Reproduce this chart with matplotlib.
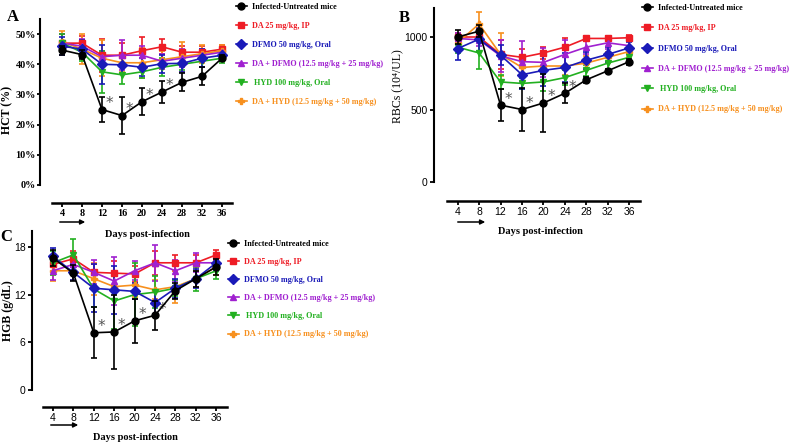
import matplotlib
matplotlib.use("agg")
import matplotlib.pyplot as plt
from matplotlib.lines import Line2D
import numpy as np

days = [4, 8, 12, 16, 20, 24, 28, 32, 36]
groups = ["Infected-Untreated mice", "DA 25 mg/kg, IP", "DFMO 50 mg/kg, Oral",
          "DA + DFMO (12.5 mg/kg + 25 mg/kg)", " HYD 100 mg/kg, Oral",
          "DA + HYD (12.5 mg/kg + 50 mg/kg)"]
colors = ["#000000", "#ee1c25", "#1a1ab8", "#a020d0", "#22b020", "#f7901e"]
markers = ["o", "s", "D", "^", "v", "P"]

# HCT (%)
hct = [[44.7, 43.2, 25.0, 23.0, 27.6, 30.8, 34.0, 36.0, 42.0],
       [47.0, 47.0, 43.0, 43.0, 44.5, 45.8, 44.0, 44.0, 45.0],
       [46.0, 45.0, 40.0, 39.8, 39.0, 40.2, 40.3, 42.0, 43.0],
       [47.0, 46.0, 42.5, 43.0, 43.0, 41.0, 42.0, 43.0, 44.0],
       [47.0, 44.0, 37.5, 36.5, 37.5, 39.0, 40.0, 41.0, 42.0],
       [47.5, 45.0, 42.0, 40.5, 40.5, 41.5, 42.5, 43.5, 44.5]]
hct_err = [[1.5, 1.5, 4.0, 6.0, 4.5, 3.7, 3.0, 3.0, 1.0],
           [3.0, 2.5, 5.5, 4.0, 4.5, 2.5, 2.0, 2.0, 1.5],
           [3.0, 3.0, 6.5, 3.0, 3.0, 3.0, 3.0, 3.0, 1.5],
           [3.0, 2.5, 2.0, 5.0, 3.0, 2.5, 3.0, 2.0, 1.5],
           [3.0, 3.0, 7.0, 3.0, 2.0, 3.0, 2.0, 2.0, 1.5],
           [3.5, 5.0, 6.0, 3.0, 5.0, 3.0, 5.0, 3.0, 2.0]]

# RBCs (10^4/UL)
rbc = [[1000, 1040, 530, 500, 545, 612, 705, 767, 830],
       [1000, 1000, 880, 860, 890, 930, 990, 990, 995],
       [920, 985, 875, 740, 770, 790, 840, 880, 925],
       [990, 980, 870, 830, 825, 880, 930, 960, 940],
       [930, 890, 690, 680, 690, 720, 770, 820, 860],
       [960, 1090, 880, 790, 800, 800, 820, 860, 900]]
rbc_err = [[50, 40, 110, 150, 200, 70, 20, 15, 20],
           [30, 30, 100, 60, 40, 60, 20, 20, 20],
           [80, 80, 70, 100, 110, 100, 60, 50, 40],
           [40, 40, 110, 140, 100, 100, 50, 40, 40],
           [40, 110, 50, 40, 60, 50, 40, 40, 40],
           [50, 80, 150, 40, 100, 60, 50, 40, 40]]

# HGB (g/dL)
hgb = [[16.6, 14.7, 7.2, 7.3, 8.7, 9.4, 12.5, 14.0, 15.5],
       [15.8, 16.5, 14.8, 14.7, 14.6, 16.0, 16.0, 16.0, 17.0],
       [16.8, 14.8, 12.8, 12.6, 12.4, 11.0, 12.8, 14.0, 16.0],
       [15.0, 15.8, 14.8, 13.7, 15.0, 16.0, 15.0, 16.0, 16.0],
       [16.0, 17.0, 12.7, 11.2, 12.0, 12.3, 12.8, 14.0, 15.0],
       [15.0, 15.0, 14.0, 13.0, 13.2, 12.6, 13.0, 14.0, 15.5]]
hgb_err = [[1.0, 1.0, 3.2, 4.7, 2.8, 1.8, 1.0, 1.0, 1.0],
           [1.0, 1.0, 1.0, 1.5, 1.0, 1.5, 1.0, 1.0, 0.6],
           [1.0, 1.0, 3.0, 3.0, 1.0, 1.5, 1.2, 1.2, 1.0],
           [1.2, 1.0, 1.5, 3.0, 1.2, 2.3, 1.3, 1.2, 1.0],
           [1.5, 2.0, 2.2, 3.5, 4.0, 2.0, 1.0, 1.5, 1.0],
           [1.3, 1.2, 2.0, 1.5, 1.5, 1.2, 2.0, 1.0, 1.0]]

star_days = [12, 16, 20, 24]

serif = ["Liberation Serif", "DejaVu Serif"]
narrow = ["Liberation Sans Narrow", "Liberation Sans", "DejaVu Sans"]

fig = plt.figure(figsize=(8, 4.46), dpi=100)
W, H = 800.0, 446.0


def make_ax(left, right, top, bottom):
    return fig.add_axes([left / W, 1 - bottom / H, (right - left) / W, (bottom - top) / H])


def draw(ax, vals, errs, xlim, ylim, yticks, ylabels, tickfont, tsize, offset):
    order = [1, 5, 3, 4, 2, 0]
    for i in order:
        ax.errorbar(days, vals[i], yerr=errs[i], color=colors[i], marker=markers[i],
                    markersize=5, lw=1.2, elinewidth=1.2, capsize=2.5, capthick=1.2,
                    zorder=3 + (i == 0))
    for d in star_days:
        k = days.index(d)
        ax.annotate("*", (d, vals[0][k]), xytext=(5.5, -1), textcoords="offset points",
                    fontsize=11, color="#555555", ha="center", va="bottom")
    ax.set_xlim(*xlim)
    ax.set_ylim(*ylim)
    for s in ["top", "right"]:
        ax.spines[s].set_visible(False)
    ax.spines["left"].set_linewidth(1.5)
    ax.spines["bottom"].set_linewidth(1.8)
    ax.spines["bottom"].set_position(("outward", offset))
    ax.spines["bottom"].set_bounds(2, 38)
    wt = "bold" if tickfont is serif else "normal"
    ax.set_xticks(days)
    ax.set_xticklabels([str(d) for d in days], family=tickfont, fontsize=tsize, fontweight=wt)
    ax.set_yticks(yticks)
    ax.set_yticklabels(ylabels, family=tickfont, fontsize=tsize, fontweight=wt)
    ax.tick_params(axis="both", direction="out", length=3, width=1.3, pad=1.5)


def legend(x, y, spacing):
    handles = [Line2D([], [], color=colors[i], marker=markers[i], markersize=5, lw=1.2)
               for i in range(6)]
    leg = fig.legend(handles, groups, loc="upper left",
                     bbox_to_anchor=(x / W, 1 - y / H), frameon=False,
                     handlelength=1.3, handletextpad=0.6, labelspacing=spacing,
                     prop={"family": serif, "weight": "bold", "size": 5.9},
                     borderaxespad=0, borderpad=0)
    for t, c in zip(leg.get_texts(), colors):
        t.set_color(c)


# Panel A
axA = make_ax(40, 232, 19, 185)
draw(axA, hct, hct_err, (-0.4, 38), (0, 55), [0, 10, 20, 30, 40, 50],
     ["0%", "10%", "20%", "30%", "40%", "50%"], serif, 7.3, 13)
axA.tick_params(axis="y", length=2.5, pad=0.5)
axA.set_ylabel("HCT (%)", family=serif, fontweight="bold", fontsize=8.5)
axA.yaxis.set_label_coords(-0.14, 0.45)
legend(236, 3, 1.35)

# Panel B
axB = make_ax(434, 640, 8, 182)
draw(axB, rbc, rbc_err, (-0.4, 38), (0, 1200), [0, 500, 1000],
     ["0", "500", "1000"], narrow, 7.5, 13.5)
axB.set_ylabel("RBCs (10⁴/UL)", family=serif, fontsize=8.5)
axB.yaxis.set_label_coords(-0.145, 0.55)
legend(642, 4, 1.5)

# Panel C
axC = make_ax(32, 225, 231, 390)
draw(axC, hgb, hgb_err, (-0.1, 37.7), (0, 20), [0, 6, 12, 18],
     ["0", "6", "12", "18"], narrow, 7.5, 12.2)
axC.set_ylabel("HGB (g/dL)", family=serif, fontweight="bold", fontsize=8.5)
axC.yaxis.set_label_coords(-0.095, 0.5)
legend(228, 240, 1.23)

# x-axis titles and arrows
for (tx, ty), (ax0, ax1, ay) in [((147, 235), (57, 88, 222)),
                                  ((540, 232), (455, 488, 222)),
                                  ((135, 437), (48, 81, 425))]:
    fig.text(tx / W, 1 - ty / H, "Days post-infection", family=serif, fontweight="bold",
             fontsize=7.5, ha="center", va="center")
    fig.add_artist(matplotlib.patches.FancyArrowPatch(
        (ax0 / W, 1 - ay / H), (ax1 / W, 1 - ay / H), transform=fig.transFigure,
        arrowstyle="-|>", mutation_scale=7, lw=1.1, color="black"))

for lbl, lx, ly in [("A", 13, 17), ("B", 404, 18), ("C", 6, 237)]:
    fig.text(lx / W, 1 - ly / H, lbl, family=serif, fontweight="bold", fontsize=12,
             ha="center", va="center")

fig.savefig("out.png", dpi=100)
